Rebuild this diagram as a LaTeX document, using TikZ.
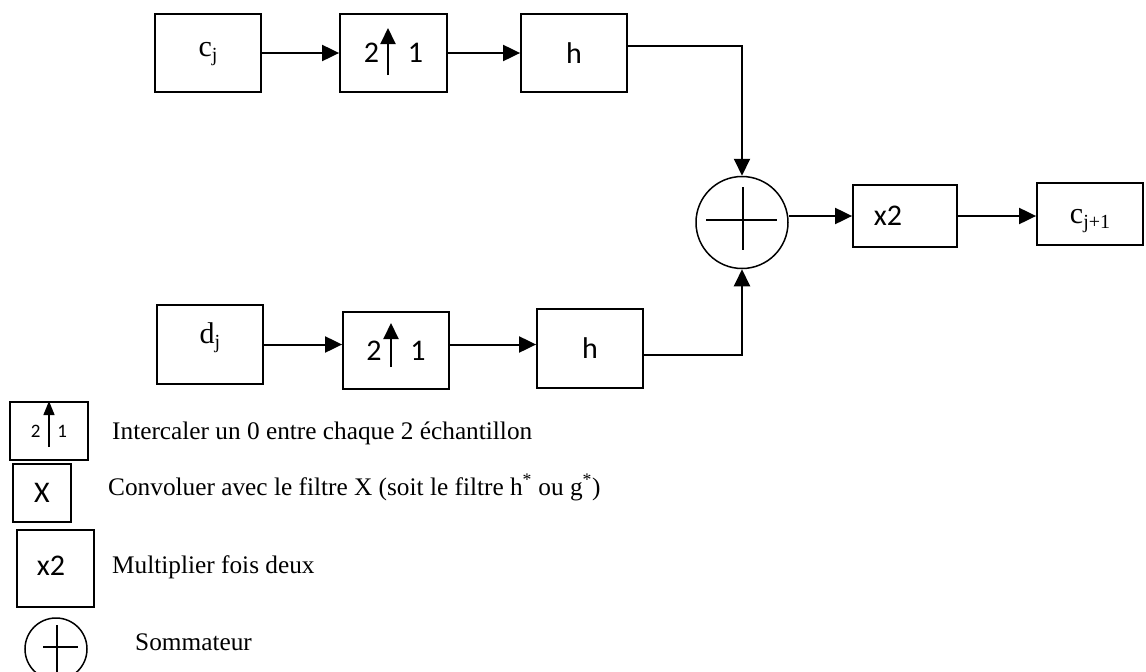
\documentclass[tikz,border=0pt]{standalone}
\usepackage{fontspec}
\newfontfamily\calfont{Carlito}
\newfontfamily\timesfont{Liberation Serif}
\usetikzlibrary{arrows.meta}

% signal name with a lowered index, e.g. c_j; #3 moves the baseline
% relative to the node centre (the label itself takes no height)
\newcommand{\signame}[3]{\smash{\raisebox{#3}{\timesfont\fontsize{30}{34}\selectfont
  #1\raisebox{-5pt}{\fontsize{20}{20}\selectfont #2}}}}

\begin{document}
\begin{tikzpicture}[x=1pt,y=-1pt,
  blk/.style={draw, line width=1.8pt, inner sep=0pt,
    font=\calfont\fontsize{30}{34}\selectfont},
  summer/.style={draw, circle, line width=1.5pt, inner sep=0pt},
  conn/.style={line width=2pt, -{Triangle[length=17pt,width=16pt]}},
  uparrow/.style={line width=2pt, -{Triangle[length=16pt,width=15pt]}},
  smallup/.style={line width=1.6pt, -{Triangle[length=14pt,width=11pt]}},
  plusbar/.style={line width=1.5pt},
  note/.style={anchor=base west, inner sep=0pt,
    font=\timesfont\fontsize{25.3}{30}\selectfont},
]
\useasboundingbox (0,0) rectangle (1146,672);
\clip (0,0) rectangle (1146,672);

% upper branch
\node[blk, minimum width=106pt, minimum height=78pt] (cj)  at (208,53)   {\signame{c}{j}{-3pt}};
\node[blk, minimum width=107pt, minimum height=78pt] (up1) at (393.5,53) {2\hspace{29pt}1};
\node[blk, minimum width=106pt, minimum height=78pt] (h1)  at (574,53)   {h};

% lower branch
\node[blk, minimum width=106pt, minimum height=79pt] (dj)  at (210,344.5) {\signame{d}{j}{1.5pt}};
\node[blk, minimum width=106pt, minimum height=77pt] (up2) at (396,350.5) {2\hspace{29pt}1};
\node[blk, minimum width=106pt, minimum height=79pt] (h2)  at (590,348.5) {h};

% adder and output
\node[summer, minimum size=92pt] (sum) at (742,222.5) {};
\node[blk, minimum width=104pt, minimum height=62pt] (x2)  at (905,216)  {x2\kern34pt};
\node[blk, minimum width=106pt, minimum height=62pt] (cj1) at (1090,214) {\signame{c}{j+1}{-9pt}};

% upsampling arrows inside the boxes
\draw[uparrow] ([xshift=-5.5pt,yshift=-22pt]up1.center) -- ([xshift=-5.5pt,yshift=25pt]up1.center);
\draw[uparrow] ([xshift=-5pt,yshift=-16.5pt]up2.center) -- ([xshift=-5pt,yshift=27.5pt]up2.center);

% plus sign of the adder
\draw[plusbar] ([xshift=-36pt,yshift=2.5pt]sum.center) -- ([xshift=35pt,yshift=2.5pt]sum.center);
\draw[plusbar] ([xshift=1pt,yshift=35.5pt]sum.center) -- ([xshift=1pt,yshift=-27.5pt]sum.center);

% connectors
\draw[conn] (cj) -- (up1);
\draw[conn] (up1) -- (h1);
\draw[conn] (dj) -- (dj -| up2.west);
\draw[conn] (up2.east |- dj) -- (dj -| h2.west);
\draw[conn] ([yshift=7pt]h1.east) -| (sum.north);
\draw[conn] ([yshift=-6.5pt]h2.east) -| (sum.south);
\draw[conn] (sum.east |- x2.west) -- (x2.west);
\draw[conn] (x2) -- (x2 -| cj1.west);

% legend symbols
\node[blk, minimum width=78pt, minimum height=58pt,
      font=\calfont\fontsize{19}{22}\selectfont] (lup) at (49,431) {2\hspace{17pt}1};
\draw[smallup] ([yshift=-16pt]lup.center) -- (lup.north);
\node[blk, minimum width=58pt, minimum height=58pt] (lx)  at (42,493)    {X};
\node[blk, minimum width=77pt, minimum height=77pt] (lx2) at (55.5,568.5) {\raisebox{5pt}{x2}\kern9pt};
\node[summer, minimum size=62pt] (lsum) at (56,649) {};
\draw[plusbar] ([xshift=-13pt,yshift=2pt]lsum.center) -- ([xshift=22pt,yshift=2pt]lsum.center);
\draw[plusbar] ([xshift=1pt,yshift=24pt]lsum.center) -- ([xshift=1pt,yshift=-30pt]lsum.center);

% legend texts
\node[note] (t1) at (112,439) {Intercaler un 0 entre chaque 2 échantillon};
\node[note] (t2) at (108,495) {Convoluer avec le filtre X (soit le filtre h\textsuperscript{*} ou g\textsuperscript{*})};
\node[note] (t3) at (112,573) {Multiplier fois deux};
\node[note] (t4) at (135,650) {Sommateur};
\end{tikzpicture}
\end{document}
